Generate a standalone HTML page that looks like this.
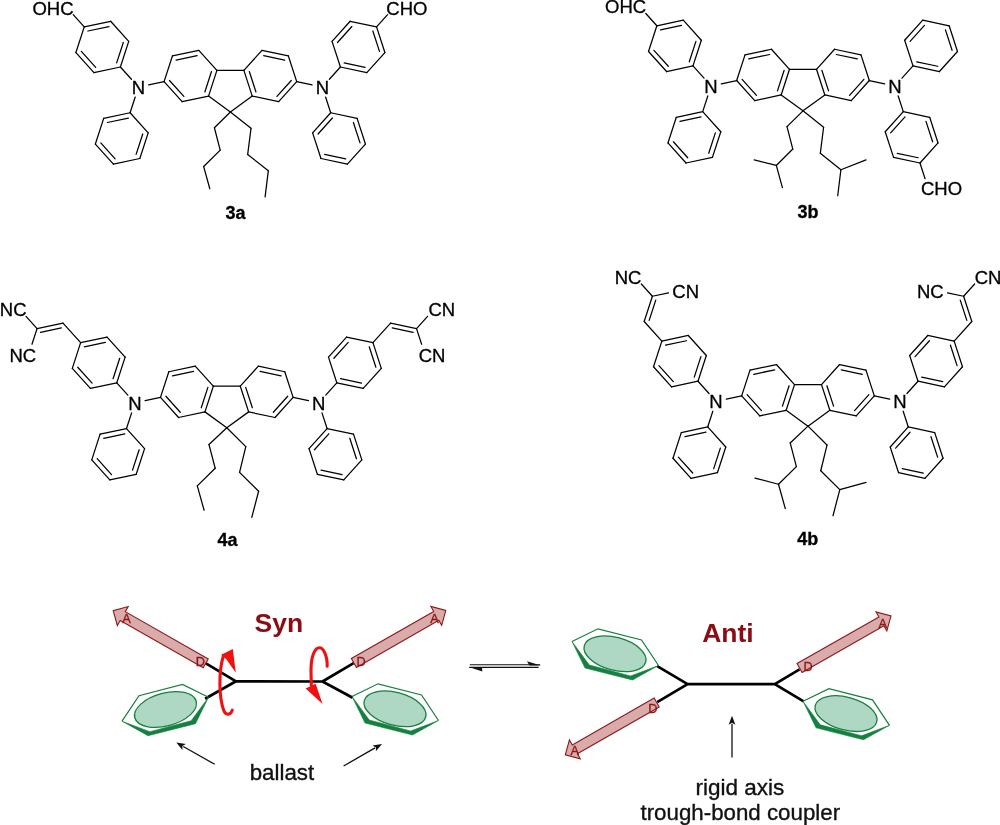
<!DOCTYPE html>
<html><head><meta charset="utf-8"><style>
html,body{margin:0;padding:0;background:#fff;overflow:hidden;}
svg{display:block;will-change:transform;}
text{font-family:"Liberation Sans",sans-serif;}
</style></head><body>
<svg width="1000" height="825" viewBox="0 0 1000 825">
<g stroke="#000" stroke-width="1.25" stroke-linecap="round" fill="none">
<line x1="216.90" y1="70.40" x2="243.90" y2="70.40"/>
<line x1="208.56" y1="96.08" x2="230.40" y2="111.95"/>
<line x1="230.40" y1="111.95" x2="252.24" y2="96.08"/>
<line x1="208.56" y1="96.08" x2="182.15" y2="101.69"/>
<line x1="182.15" y1="101.69" x2="164.08" y2="81.63"/>
<line x1="164.08" y1="81.63" x2="172.42" y2="55.95"/>
<line x1="172.42" y1="55.95" x2="198.83" y2="50.34"/>
<line x1="198.83" y1="50.34" x2="216.90" y2="70.40"/>
<line x1="216.90" y1="70.40" x2="208.56" y2="96.08"/>
<line x1="176.13" y1="60.07" x2="197.12" y2="55.61"/>
<line x1="211.48" y1="71.55" x2="204.85" y2="91.96"/>
<line x1="183.86" y1="96.42" x2="169.50" y2="80.48"/>
<line x1="296.72" y1="81.63" x2="278.65" y2="101.69"/>
<line x1="278.65" y1="101.69" x2="252.24" y2="96.08"/>
<line x1="252.24" y1="96.08" x2="243.90" y2="70.40"/>
<line x1="243.90" y1="70.40" x2="261.97" y2="50.34"/>
<line x1="261.97" y1="50.34" x2="288.38" y2="55.95"/>
<line x1="288.38" y1="55.95" x2="296.72" y2="81.63"/>
<line x1="263.68" y1="55.61" x2="284.67" y2="60.07"/>
<line x1="255.95" y1="91.96" x2="249.32" y2="71.55"/>
<line x1="291.30" y1="80.48" x2="276.94" y2="96.42"/>
<line x1="164.08" y1="81.63" x2="148.72" y2="84.89"/>
<line x1="296.72" y1="81.63" x2="312.08" y2="84.89"/>
<line x1="120.39" y1="67.01" x2="93.98" y2="72.62"/>
<line x1="93.98" y1="72.62" x2="75.91" y2="52.56"/>
<line x1="75.91" y1="52.56" x2="84.25" y2="26.88"/>
<line x1="84.25" y1="26.88" x2="110.66" y2="21.27"/>
<line x1="110.66" y1="21.27" x2="128.73" y2="41.33"/>
<line x1="128.73" y1="41.33" x2="120.39" y2="67.01"/>
<line x1="87.96" y1="31.00" x2="108.95" y2="26.54"/>
<line x1="123.31" y1="42.48" x2="116.68" y2="62.89"/>
<line x1="95.69" y1="67.35" x2="81.33" y2="51.41"/>
<line x1="131.43" y1="79.27" x2="120.39" y2="67.01"/>
<line x1="139.83" y1="158.50" x2="113.42" y2="164.11"/>
<line x1="113.42" y1="164.11" x2="95.36" y2="144.05"/>
<line x1="95.36" y1="144.05" x2="103.70" y2="118.37"/>
<line x1="103.70" y1="118.37" x2="130.11" y2="112.75"/>
<line x1="130.11" y1="112.75" x2="148.18" y2="132.82"/>
<line x1="148.18" y1="132.82" x2="139.83" y2="158.50"/>
<line x1="107.41" y1="122.49" x2="128.40" y2="118.03"/>
<line x1="142.75" y1="133.97" x2="136.12" y2="154.38"/>
<line x1="115.13" y1="158.84" x2="100.78" y2="142.89"/>
<line x1="135.21" y1="97.06" x2="130.11" y2="112.75"/>
<line x1="384.89" y1="52.56" x2="366.82" y2="72.62"/>
<line x1="366.82" y1="72.62" x2="340.41" y2="67.01"/>
<line x1="340.41" y1="67.01" x2="332.07" y2="41.33"/>
<line x1="332.07" y1="41.33" x2="350.14" y2="21.27"/>
<line x1="350.14" y1="21.27" x2="376.55" y2="26.88"/>
<line x1="376.55" y1="26.88" x2="384.89" y2="52.56"/>
<line x1="337.49" y1="42.48" x2="351.85" y2="26.54"/>
<line x1="372.84" y1="31.00" x2="379.47" y2="51.41"/>
<line x1="365.11" y1="67.35" x2="344.12" y2="62.89"/>
<line x1="329.37" y1="79.27" x2="340.41" y2="67.01"/>
<line x1="365.44" y1="144.05" x2="347.38" y2="164.11"/>
<line x1="347.38" y1="164.11" x2="320.97" y2="158.50"/>
<line x1="320.97" y1="158.50" x2="312.62" y2="132.82"/>
<line x1="312.62" y1="132.82" x2="330.69" y2="112.75"/>
<line x1="330.69" y1="112.75" x2="357.10" y2="118.37"/>
<line x1="357.10" y1="118.37" x2="365.44" y2="144.05"/>
<line x1="318.05" y1="133.97" x2="332.40" y2="118.03"/>
<line x1="353.39" y1="122.49" x2="360.02" y2="142.89"/>
<line x1="345.67" y1="158.84" x2="324.68" y2="154.38"/>
<line x1="325.59" y1="97.06" x2="330.69" y2="112.75"/>
<line x1="84.25" y1="26.88" x2="73.21" y2="14.62"/>
<line x1="376.55" y1="26.88" x2="387.59" y2="14.62"/>
<line x1="230.40" y1="111.95" x2="214.40" y2="127.75"/>
<line x1="214.40" y1="127.75" x2="220.20" y2="150.15"/>
<line x1="220.20" y1="150.15" x2="203.70" y2="166.55"/>
<line x1="203.70" y1="166.55" x2="209.80" y2="188.75"/>
<line x1="230.40" y1="111.95" x2="251.00" y2="128.35"/>
<line x1="251.00" y1="128.35" x2="247.70" y2="154.45"/>
<line x1="247.70" y1="154.45" x2="268.30" y2="170.85"/>
<line x1="268.30" y1="170.85" x2="265.10" y2="196.85"/>
<line x1="789.50" y1="69.30" x2="816.50" y2="69.30"/>
<line x1="781.16" y1="94.98" x2="803.00" y2="110.85"/>
<line x1="803.00" y1="110.85" x2="824.84" y2="94.98"/>
<line x1="781.16" y1="94.98" x2="754.75" y2="100.59"/>
<line x1="754.75" y1="100.59" x2="736.68" y2="80.53"/>
<line x1="736.68" y1="80.53" x2="745.02" y2="54.85"/>
<line x1="745.02" y1="54.85" x2="771.43" y2="49.24"/>
<line x1="771.43" y1="49.24" x2="789.50" y2="69.30"/>
<line x1="789.50" y1="69.30" x2="781.16" y2="94.98"/>
<line x1="748.73" y1="58.97" x2="769.72" y2="54.51"/>
<line x1="784.08" y1="70.45" x2="777.45" y2="90.86"/>
<line x1="756.46" y1="95.32" x2="742.10" y2="79.38"/>
<line x1="869.32" y1="80.53" x2="851.25" y2="100.59"/>
<line x1="851.25" y1="100.59" x2="824.84" y2="94.98"/>
<line x1="824.84" y1="94.98" x2="816.50" y2="69.30"/>
<line x1="816.50" y1="69.30" x2="834.57" y2="49.24"/>
<line x1="834.57" y1="49.24" x2="860.98" y2="54.85"/>
<line x1="860.98" y1="54.85" x2="869.32" y2="80.53"/>
<line x1="836.28" y1="54.51" x2="857.27" y2="58.97"/>
<line x1="828.55" y1="90.86" x2="821.92" y2="70.45"/>
<line x1="863.90" y1="79.38" x2="849.54" y2="95.32"/>
<line x1="736.68" y1="80.53" x2="721.32" y2="83.79"/>
<line x1="869.32" y1="80.53" x2="884.68" y2="83.79"/>
<line x1="692.99" y1="65.91" x2="666.58" y2="71.52"/>
<line x1="666.58" y1="71.52" x2="648.51" y2="51.46"/>
<line x1="648.51" y1="51.46" x2="656.85" y2="25.78"/>
<line x1="656.85" y1="25.78" x2="683.26" y2="20.17"/>
<line x1="683.26" y1="20.17" x2="701.33" y2="40.23"/>
<line x1="701.33" y1="40.23" x2="692.99" y2="65.91"/>
<line x1="660.56" y1="29.90" x2="681.55" y2="25.44"/>
<line x1="695.91" y1="41.38" x2="689.28" y2="61.79"/>
<line x1="668.29" y1="66.25" x2="653.93" y2="50.31"/>
<line x1="704.03" y1="78.17" x2="692.99" y2="65.91"/>
<line x1="712.43" y1="157.40" x2="686.02" y2="163.01"/>
<line x1="686.02" y1="163.01" x2="667.96" y2="142.95"/>
<line x1="667.96" y1="142.95" x2="676.30" y2="117.27"/>
<line x1="676.30" y1="117.27" x2="702.71" y2="111.65"/>
<line x1="702.71" y1="111.65" x2="720.78" y2="131.72"/>
<line x1="720.78" y1="131.72" x2="712.43" y2="157.40"/>
<line x1="680.01" y1="121.39" x2="701.00" y2="116.93"/>
<line x1="715.35" y1="132.87" x2="708.72" y2="153.28"/>
<line x1="687.73" y1="157.74" x2="673.38" y2="141.79"/>
<line x1="707.81" y1="95.96" x2="702.71" y2="111.65"/>
<line x1="957.49" y1="51.46" x2="939.42" y2="71.52"/>
<line x1="939.42" y1="71.52" x2="913.01" y2="65.91"/>
<line x1="913.01" y1="65.91" x2="904.67" y2="40.23"/>
<line x1="904.67" y1="40.23" x2="922.74" y2="20.17"/>
<line x1="922.74" y1="20.17" x2="949.15" y2="25.78"/>
<line x1="949.15" y1="25.78" x2="957.49" y2="51.46"/>
<line x1="910.09" y1="41.38" x2="924.45" y2="25.44"/>
<line x1="945.44" y1="29.90" x2="952.07" y2="50.31"/>
<line x1="937.71" y1="66.25" x2="916.72" y2="61.79"/>
<line x1="901.97" y1="78.17" x2="913.01" y2="65.91"/>
<line x1="938.04" y1="142.95" x2="919.98" y2="163.01"/>
<line x1="919.98" y1="163.01" x2="893.57" y2="157.40"/>
<line x1="893.57" y1="157.40" x2="885.22" y2="131.72"/>
<line x1="885.22" y1="131.72" x2="903.29" y2="111.65"/>
<line x1="903.29" y1="111.65" x2="929.70" y2="117.27"/>
<line x1="929.70" y1="117.27" x2="938.04" y2="142.95"/>
<line x1="890.65" y1="132.87" x2="905.00" y2="116.93"/>
<line x1="925.99" y1="121.39" x2="932.62" y2="141.79"/>
<line x1="918.27" y1="157.74" x2="897.28" y2="153.28"/>
<line x1="898.19" y1="95.96" x2="903.29" y2="111.65"/>
<line x1="656.85" y1="25.78" x2="645.81" y2="13.52"/>
<line x1="919.98" y1="163.01" x2="925.08" y2="178.70"/>
<line x1="803.00" y1="110.85" x2="787.00" y2="126.65"/>
<line x1="787.00" y1="126.65" x2="792.80" y2="149.05"/>
<line x1="792.80" y1="149.05" x2="776.30" y2="165.45"/>
<line x1="776.30" y1="165.45" x2="782.40" y2="187.65"/>
<line x1="776.30" y1="165.45" x2="754.20" y2="159.95"/>
<line x1="803.00" y1="110.85" x2="823.60" y2="127.25"/>
<line x1="823.60" y1="127.25" x2="820.30" y2="153.35"/>
<line x1="820.30" y1="153.35" x2="840.90" y2="169.75"/>
<line x1="840.90" y1="169.75" x2="837.70" y2="195.75"/>
<line x1="840.90" y1="169.75" x2="866.00" y2="159.95"/>
<line x1="213.30" y1="386.20" x2="240.30" y2="386.20"/>
<line x1="204.96" y1="411.88" x2="226.80" y2="427.75"/>
<line x1="226.80" y1="427.75" x2="248.64" y2="411.88"/>
<line x1="204.96" y1="411.88" x2="178.55" y2="417.49"/>
<line x1="178.55" y1="417.49" x2="160.48" y2="397.43"/>
<line x1="160.48" y1="397.43" x2="168.82" y2="371.75"/>
<line x1="168.82" y1="371.75" x2="195.23" y2="366.14"/>
<line x1="195.23" y1="366.14" x2="213.30" y2="386.20"/>
<line x1="213.30" y1="386.20" x2="204.96" y2="411.88"/>
<line x1="172.53" y1="375.87" x2="193.52" y2="371.41"/>
<line x1="207.88" y1="387.35" x2="201.25" y2="407.76"/>
<line x1="180.26" y1="412.22" x2="165.90" y2="396.28"/>
<line x1="293.12" y1="397.43" x2="275.05" y2="417.49"/>
<line x1="275.05" y1="417.49" x2="248.64" y2="411.88"/>
<line x1="248.64" y1="411.88" x2="240.30" y2="386.20"/>
<line x1="240.30" y1="386.20" x2="258.37" y2="366.14"/>
<line x1="258.37" y1="366.14" x2="284.78" y2="371.75"/>
<line x1="284.78" y1="371.75" x2="293.12" y2="397.43"/>
<line x1="260.08" y1="371.41" x2="281.07" y2="375.87"/>
<line x1="252.35" y1="407.76" x2="245.72" y2="387.35"/>
<line x1="287.70" y1="396.28" x2="273.34" y2="412.22"/>
<line x1="160.48" y1="397.43" x2="145.12" y2="400.69"/>
<line x1="293.12" y1="397.43" x2="308.48" y2="400.69"/>
<line x1="116.79" y1="382.81" x2="90.38" y2="388.42"/>
<line x1="90.38" y1="388.42" x2="72.31" y2="368.36"/>
<line x1="72.31" y1="368.36" x2="80.65" y2="342.68"/>
<line x1="80.65" y1="342.68" x2="107.06" y2="337.07"/>
<line x1="107.06" y1="337.07" x2="125.13" y2="357.13"/>
<line x1="125.13" y1="357.13" x2="116.79" y2="382.81"/>
<line x1="84.36" y1="346.80" x2="105.35" y2="342.34"/>
<line x1="119.71" y1="358.28" x2="113.08" y2="378.69"/>
<line x1="92.09" y1="383.15" x2="77.73" y2="367.21"/>
<line x1="127.83" y1="395.07" x2="116.79" y2="382.81"/>
<line x1="136.23" y1="474.30" x2="109.82" y2="479.91"/>
<line x1="109.82" y1="479.91" x2="91.76" y2="459.85"/>
<line x1="91.76" y1="459.85" x2="100.10" y2="434.17"/>
<line x1="100.10" y1="434.17" x2="126.51" y2="428.55"/>
<line x1="126.51" y1="428.55" x2="144.58" y2="448.62"/>
<line x1="144.58" y1="448.62" x2="136.23" y2="474.30"/>
<line x1="103.81" y1="438.29" x2="124.80" y2="433.83"/>
<line x1="139.15" y1="449.77" x2="132.52" y2="470.18"/>
<line x1="111.53" y1="474.64" x2="97.18" y2="458.69"/>
<line x1="131.61" y1="412.86" x2="126.51" y2="428.55"/>
<line x1="381.29" y1="368.36" x2="363.22" y2="388.42"/>
<line x1="363.22" y1="388.42" x2="336.81" y2="382.81"/>
<line x1="336.81" y1="382.81" x2="328.47" y2="357.13"/>
<line x1="328.47" y1="357.13" x2="346.54" y2="337.07"/>
<line x1="346.54" y1="337.07" x2="372.95" y2="342.68"/>
<line x1="372.95" y1="342.68" x2="381.29" y2="368.36"/>
<line x1="333.89" y1="358.28" x2="348.25" y2="342.34"/>
<line x1="369.24" y1="346.80" x2="375.87" y2="367.21"/>
<line x1="361.51" y1="383.15" x2="340.52" y2="378.69"/>
<line x1="325.77" y1="395.07" x2="336.81" y2="382.81"/>
<line x1="361.84" y1="459.85" x2="343.78" y2="479.91"/>
<line x1="343.78" y1="479.91" x2="317.37" y2="474.30"/>
<line x1="317.37" y1="474.30" x2="309.02" y2="448.62"/>
<line x1="309.02" y1="448.62" x2="327.09" y2="428.55"/>
<line x1="327.09" y1="428.55" x2="353.50" y2="434.17"/>
<line x1="353.50" y1="434.17" x2="361.84" y2="459.85"/>
<line x1="314.45" y1="449.77" x2="328.80" y2="433.83"/>
<line x1="349.79" y1="438.29" x2="356.42" y2="458.69"/>
<line x1="342.07" y1="474.64" x2="321.08" y2="470.18"/>
<line x1="321.99" y1="412.86" x2="327.09" y2="428.55"/>
<line x1="80.65" y1="342.68" x2="62.99" y2="323.06"/>
<line x1="62.99" y1="323.06" x2="37.07" y2="328.57"/>
<line x1="40.53" y1="332.33" x2="61.36" y2="327.91"/>
<line x1="37.07" y1="328.57" x2="26.03" y2="316.31"/>
<line x1="37.07" y1="328.57" x2="31.97" y2="344.26"/>
<line x1="372.95" y1="342.68" x2="390.61" y2="323.06"/>
<line x1="390.61" y1="323.06" x2="416.53" y2="328.57"/>
<line x1="413.07" y1="332.33" x2="392.24" y2="327.91"/>
<line x1="416.53" y1="328.57" x2="427.57" y2="316.31"/>
<line x1="416.53" y1="328.57" x2="421.63" y2="344.26"/>
<line x1="226.80" y1="427.75" x2="209.00" y2="444.55"/>
<line x1="209.00" y1="444.55" x2="215.20" y2="468.25"/>
<line x1="215.20" y1="468.25" x2="197.30" y2="485.85"/>
<line x1="197.30" y1="485.85" x2="204.10" y2="510.25"/>
<line x1="226.80" y1="427.75" x2="245.80" y2="446.65"/>
<line x1="245.80" y1="446.65" x2="239.55" y2="472.35"/>
<line x1="239.55" y1="472.35" x2="258.60" y2="491.25"/>
<line x1="258.60" y1="491.25" x2="251.80" y2="517.35"/>
<line x1="794.50" y1="384.60" x2="821.50" y2="384.60"/>
<line x1="786.16" y1="410.28" x2="808.00" y2="426.15"/>
<line x1="808.00" y1="426.15" x2="829.84" y2="410.28"/>
<line x1="786.16" y1="410.28" x2="759.75" y2="415.89"/>
<line x1="759.75" y1="415.89" x2="741.68" y2="395.83"/>
<line x1="741.68" y1="395.83" x2="750.02" y2="370.15"/>
<line x1="750.02" y1="370.15" x2="776.43" y2="364.54"/>
<line x1="776.43" y1="364.54" x2="794.50" y2="384.60"/>
<line x1="794.50" y1="384.60" x2="786.16" y2="410.28"/>
<line x1="753.73" y1="374.27" x2="774.72" y2="369.81"/>
<line x1="789.08" y1="385.75" x2="782.45" y2="406.16"/>
<line x1="761.46" y1="410.62" x2="747.10" y2="394.68"/>
<line x1="874.32" y1="395.83" x2="856.25" y2="415.89"/>
<line x1="856.25" y1="415.89" x2="829.84" y2="410.28"/>
<line x1="829.84" y1="410.28" x2="821.50" y2="384.60"/>
<line x1="821.50" y1="384.60" x2="839.57" y2="364.54"/>
<line x1="839.57" y1="364.54" x2="865.98" y2="370.15"/>
<line x1="865.98" y1="370.15" x2="874.32" y2="395.83"/>
<line x1="841.28" y1="369.81" x2="862.27" y2="374.27"/>
<line x1="833.55" y1="406.16" x2="826.92" y2="385.75"/>
<line x1="868.90" y1="394.68" x2="854.54" y2="410.62"/>
<line x1="741.68" y1="395.83" x2="726.32" y2="399.09"/>
<line x1="874.32" y1="395.83" x2="889.68" y2="399.09"/>
<line x1="697.99" y1="381.21" x2="671.58" y2="386.82"/>
<line x1="671.58" y1="386.82" x2="653.51" y2="366.76"/>
<line x1="653.51" y1="366.76" x2="661.85" y2="341.08"/>
<line x1="661.85" y1="341.08" x2="688.26" y2="335.47"/>
<line x1="688.26" y1="335.47" x2="706.33" y2="355.53"/>
<line x1="706.33" y1="355.53" x2="697.99" y2="381.21"/>
<line x1="665.56" y1="345.20" x2="686.55" y2="340.74"/>
<line x1="700.91" y1="356.68" x2="694.28" y2="377.09"/>
<line x1="673.29" y1="381.55" x2="658.93" y2="365.61"/>
<line x1="709.03" y1="393.47" x2="697.99" y2="381.21"/>
<line x1="717.43" y1="472.70" x2="691.02" y2="478.31"/>
<line x1="691.02" y1="478.31" x2="672.96" y2="458.25"/>
<line x1="672.96" y1="458.25" x2="681.30" y2="432.57"/>
<line x1="681.30" y1="432.57" x2="707.71" y2="426.95"/>
<line x1="707.71" y1="426.95" x2="725.78" y2="447.02"/>
<line x1="725.78" y1="447.02" x2="717.43" y2="472.70"/>
<line x1="685.01" y1="436.69" x2="706.00" y2="432.23"/>
<line x1="720.35" y1="448.17" x2="713.72" y2="468.58"/>
<line x1="692.73" y1="473.04" x2="678.38" y2="457.09"/>
<line x1="712.81" y1="411.26" x2="707.71" y2="426.95"/>
<line x1="962.49" y1="366.76" x2="944.42" y2="386.82"/>
<line x1="944.42" y1="386.82" x2="918.01" y2="381.21"/>
<line x1="918.01" y1="381.21" x2="909.67" y2="355.53"/>
<line x1="909.67" y1="355.53" x2="927.74" y2="335.47"/>
<line x1="927.74" y1="335.47" x2="954.15" y2="341.08"/>
<line x1="954.15" y1="341.08" x2="962.49" y2="366.76"/>
<line x1="915.09" y1="356.68" x2="929.45" y2="340.74"/>
<line x1="950.44" y1="345.20" x2="957.07" y2="365.61"/>
<line x1="942.71" y1="381.55" x2="921.72" y2="377.09"/>
<line x1="906.97" y1="393.47" x2="918.01" y2="381.21"/>
<line x1="943.04" y1="458.25" x2="924.98" y2="478.31"/>
<line x1="924.98" y1="478.31" x2="898.57" y2="472.70"/>
<line x1="898.57" y1="472.70" x2="890.22" y2="447.02"/>
<line x1="890.22" y1="447.02" x2="908.29" y2="426.95"/>
<line x1="908.29" y1="426.95" x2="934.70" y2="432.57"/>
<line x1="934.70" y1="432.57" x2="943.04" y2="458.25"/>
<line x1="895.65" y1="448.17" x2="910.00" y2="432.23"/>
<line x1="930.99" y1="436.69" x2="937.62" y2="457.09"/>
<line x1="923.27" y1="473.04" x2="902.28" y2="468.58"/>
<line x1="903.19" y1="411.26" x2="908.29" y2="426.95"/>
<line x1="661.85" y1="341.08" x2="644.19" y2="321.46"/>
<line x1="644.19" y1="321.46" x2="652.38" y2="296.26"/>
<line x1="655.76" y1="300.09" x2="649.18" y2="320.35"/>
<line x1="652.38" y1="296.26" x2="641.34" y2="284.00"/>
<line x1="652.38" y1="296.26" x2="668.52" y2="292.83"/>
<line x1="954.15" y1="341.08" x2="971.81" y2="321.46"/>
<line x1="971.81" y1="321.46" x2="963.62" y2="296.26"/>
<line x1="960.24" y1="300.09" x2="966.82" y2="320.35"/>
<line x1="963.62" y1="296.26" x2="947.48" y2="292.83"/>
<line x1="963.62" y1="296.26" x2="974.66" y2="284.00"/>
<line x1="808.00" y1="426.15" x2="790.20" y2="442.95"/>
<line x1="790.20" y1="442.95" x2="796.40" y2="466.65"/>
<line x1="796.40" y1="466.65" x2="778.50" y2="484.25"/>
<line x1="778.50" y1="484.25" x2="785.30" y2="508.65"/>
<line x1="778.50" y1="484.25" x2="754.90" y2="478.05"/>
<line x1="808.00" y1="426.15" x2="827.00" y2="445.05"/>
<line x1="827.00" y1="445.05" x2="820.75" y2="470.75"/>
<line x1="820.75" y1="470.75" x2="839.80" y2="489.65"/>
<line x1="839.80" y1="489.65" x2="833.00" y2="515.75"/>
<line x1="839.80" y1="489.65" x2="866.10" y2="482.45"/>
</g>
<g fill="#000" stroke="#000" stroke-width="0.3">
<text x="138.45" y="93.88" font-size="18.5" text-anchor="middle">N</text>
<text x="322.35" y="93.88" font-size="18.5" text-anchor="middle">N</text>
<text x="73.59" y="14.51" font-size="18.5" text-anchor="end">OHC</text>
<text x="386.31" y="15.11" font-size="18.5" text-anchor="start">CHO</text>
<text x="225.60" y="218.90" font-size="18" text-anchor="start" font-weight="bold">3a</text>
<text x="711.05" y="92.78" font-size="18.5" text-anchor="middle">N</text>
<text x="894.95" y="92.78" font-size="18.5" text-anchor="middle">N</text>
<text x="646.19" y="13.41" font-size="18.5" text-anchor="end">OHC</text>
<text x="920.95" y="194.95" font-size="18.5" text-anchor="start">CHO</text>
<text x="797.60" y="217.90" font-size="18" text-anchor="start" font-weight="bold">3b</text>
<text x="134.85" y="409.68" font-size="18.5" text-anchor="middle">N</text>
<text x="318.75" y="409.68" font-size="18.5" text-anchor="middle">N</text>
<text x="26.50" y="316.31" font-size="18.5" text-anchor="end">NC</text>
<text x="36.22" y="362.05" font-size="18.5" text-anchor="end">NC</text>
<text x="428.40" y="316.31" font-size="18.5" text-anchor="start">CN</text>
<text x="418.68" y="362.05" font-size="18.5" text-anchor="start">CN</text>
<text x="217.60" y="545.50" font-size="18" text-anchor="start" font-weight="bold">4a</text>
<text x="716.05" y="408.08" font-size="18.5" text-anchor="middle">N</text>
<text x="899.95" y="408.08" font-size="18.5" text-anchor="middle">N</text>
<text x="641.41" y="283.99" font-size="18.5" text-anchor="end">NC</text>
<text x="672.29" y="298.45" font-size="18.5" text-anchor="start">CN</text>
<text x="943.61" y="298.45" font-size="18.5" text-anchor="end">NC</text>
<text x="974.69" y="283.99" font-size="18.5" text-anchor="start">CN</text>
<text x="797.30" y="545.00" font-size="18" text-anchor="start" font-weight="bold">4b</text>
</g>
<g font-family="Liberation Sans, sans-serif">
<path d="M236.00,681.30L205.50,663.10 M236.00,681.30L205.10,698.70 M236.00,681.30L322.50,681.50 M322.50,681.50L353.60,663.20 M322.50,681.50L352.70,697.70" stroke="#000" stroke-width="2.7" fill="none" stroke-linecap="butt"/>
<polyline points="208.50,697.20 182.50,684.50 139.00,695.70 122.00,721.20" fill="none" stroke="#15803f" stroke-width="1.25" stroke-linejoin="miter"/>
<polygon points="208.50,697.20 195.50,723.70 148.00,735.70 122.00,721.20 149.90,731.70 191.20,720.70" fill="#15803f" stroke="#15803f" stroke-width="0.6" stroke-linejoin="miter"/>
<ellipse cx="165.50" cy="709.50" rx="31.8" ry="16.4" transform="rotate(-15 165.50 709.50)" fill="#aed8c3" stroke="#15803f" stroke-width="1.3"/>
<polyline points="352.00,696.50 378.00,683.80 421.50,695.00 438.50,720.50" fill="none" stroke="#15803f" stroke-width="1.25" stroke-linejoin="miter"/>
<polygon points="352.00,696.50 365.00,723.00 412.50,735.00 438.50,720.50 410.60,731.00 369.30,720.00" fill="#15803f" stroke="#15803f" stroke-width="0.6" stroke-linejoin="miter"/>
<ellipse cx="395.00" cy="708.80" rx="31.8" ry="16.4" transform="rotate(15 395.00 708.80)" fill="#aed8c3" stroke="#15803f" stroke-width="1.3"/>
<polygon points="208.28,658.97 125.28,611.62 128.16,606.58 113.20,610.60 117.35,625.52 120.23,620.48 203.22,667.83" fill="#d9abab" stroke="#8c1818" stroke-width="1.1" stroke-linejoin="miter"/>
<text x="126.50" y="622.80" font-size="12.8" text-anchor="middle" fill="#8c1818" stroke="#8c1818" stroke-width="0.35">A</text>
<text x="200.30" y="665.50" font-size="12.8" text-anchor="middle" fill="#8c1818" stroke="#8c1818" stroke-width="0.35">D</text>
<polygon points="356.43,667.43 438.78,620.34 441.66,625.37 445.80,610.45 430.84,606.45 433.72,611.48 351.37,658.57" fill="#d9abab" stroke="#8c1818" stroke-width="1.1" stroke-linejoin="miter"/>
<text x="434.60" y="622.80" font-size="12.8" text-anchor="middle" fill="#8c1818" stroke="#8c1818" stroke-width="0.35">A</text>
<text x="361.20" y="665.50" font-size="12.8" text-anchor="middle" fill="#8c1818" stroke="#8c1818" stroke-width="0.35">D</text>
<path d="M687.60,684.10L657.20,666.20 M687.60,684.10L657.20,702.20 M687.60,684.10L774.80,684.10 M774.80,684.10L799.60,669.40 M774.80,684.10L803.60,701.40" stroke="#000" stroke-width="2.7" fill="none" stroke-linecap="butt"/>
<polyline points="572.00,641.50 598.00,628.80 641.50,640.00 658.50,665.50" fill="none" stroke="#15803f" stroke-width="1.25" stroke-linejoin="miter"/>
<polygon points="572.00,641.50 585.00,668.00 632.50,680.00 658.50,665.50 630.60,676.00 589.30,665.00" fill="#15803f" stroke="#15803f" stroke-width="0.6" stroke-linejoin="miter"/>
<ellipse cx="615.00" cy="653.80" rx="31.8" ry="16.4" transform="rotate(15 615.00 653.80)" fill="#aed8c3" stroke="#15803f" stroke-width="1.3"/>
<polyline points="803.00,701.30 829.00,688.60 872.50,699.80 889.50,725.30" fill="none" stroke="#15803f" stroke-width="1.25" stroke-linejoin="miter"/>
<polygon points="803.00,701.30 816.00,727.80 863.50,739.80 889.50,725.30 861.60,735.80 820.30,724.80" fill="#15803f" stroke="#15803f" stroke-width="0.6" stroke-linejoin="miter"/>
<ellipse cx="846.00" cy="713.60" rx="31.8" ry="16.4" transform="rotate(15 846.00 713.60)" fill="#aed8c3" stroke="#15803f" stroke-width="1.3"/>
<polygon points="802.07,672.43 883.96,625.87 886.83,630.91 891.00,616.00 876.05,611.96 878.92,617.00 797.03,663.57" fill="#d9abab" stroke="#8c1818" stroke-width="1.1" stroke-linejoin="miter"/>
<text x="882.70" y="627.80" font-size="12.8" text-anchor="middle" fill="#8c1818" stroke="#8c1818" stroke-width="0.35">A</text>
<text x="808.20" y="671.40" font-size="12.8" text-anchor="middle" fill="#8c1818" stroke="#8c1818" stroke-width="0.35">D</text>
<polygon points="654.17,698.07 572.31,744.91 569.43,739.88 565.30,754.80 580.26,758.80 577.38,753.76 659.23,706.93" fill="#d9abab" stroke="#8c1818" stroke-width="1.1" stroke-linejoin="miter"/>
<text x="574.75" y="755.35" font-size="12.8" text-anchor="middle" fill="#8c1818" stroke="#8c1818" stroke-width="0.35">A</text>
<text x="652.75" y="712.60" font-size="12.8" text-anchor="middle" fill="#8c1818" stroke="#8c1818" stroke-width="0.35">D</text>
<path d="M232.3,710.2 C230,716 225.5,715 223.8,710.5 C219,698 218.3,672 223.5,655.5" fill="none" stroke="#ef1010" stroke-width="3.1" stroke-linecap="round"/>
<polygon points="221.2,654.8 232.8,649.0 235.8,672.8 226.5,659.5" fill="#ef1010"/>
<path d="M327.2,666.3 C327.5,655 323,647.8 319.5,647.8 C314.5,647.8 311,657 311,670 L311.3,685" fill="none" stroke="#ef1010" stroke-width="3.1" stroke-linecap="round"/>
<polygon points="305.6,688.6 315.6,683.8 322.6,704.0" fill="#ef1010"/>
<line x1="214.70" y1="764.30" x2="183.26" y2="746.45" stroke="#111" stroke-width="1.3"/>
<polygon points="176.30,742.50 185.81,743.99 182.39,745.96 182.45,749.90" fill="#111"/>
<line x1="343.60" y1="766.00" x2="375.07" y2="747.89" stroke="#111" stroke-width="1.3"/>
<polygon points="382.00,743.90 375.90,751.34 375.93,747.39 372.50,745.44" fill="#111"/>
<line x1="732.00" y1="757.60" x2="732.00" y2="723.80" stroke="#111" stroke-width="1.3"/>
<polygon points="732.00,715.80 735.40,724.80 732.00,722.80 728.60,724.80" fill="#111"/>
<path d="M469.8,664.8 L540.2,664.8 M469.3,667.4 L538.6,667.4" stroke="#111" stroke-width="1.1" fill="none"/>
<polygon points="527.0,661.2 540.8,665.4 529.5,665.4" fill="#111"/>
<polygon points="468.7,666.9 482.0,666.9 482.3,671.6" fill="#111"/>
<text x="254.5" y="632.0" font-size="26.5" font-weight="bold" fill="#890d12">Syn</text>
<text x="702.2" y="641.6" font-size="26.5" font-weight="bold" fill="#890d12">Anti</text>
<text x="249.7" y="780.0" font-size="22.3" fill="#111" stroke="#111" stroke-width="0.35">ballast</text>
<text x="695.4" y="795.2" font-size="22.5" fill="#111" stroke="#111" stroke-width="0.35">rigid axis</text>
<text x="640.5" y="820.0" font-size="22.3" fill="#111" stroke="#111" stroke-width="0.35">trough-bond coupler</text>
</g>
</svg></body></html>
